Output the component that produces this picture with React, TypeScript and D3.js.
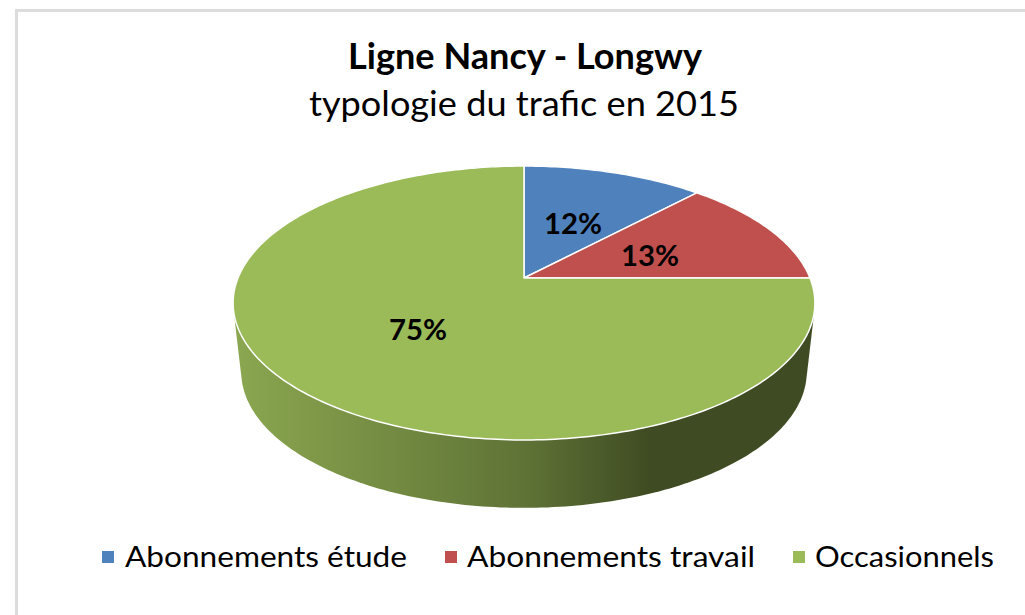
import React from 'react'
import * as d3 from 'd3'

const categories = ['Abonnements étude', 'Abonnements travail', 'Occasionnels']
const shares = [12, 13, 75]
const colors = ['#4f81bd', '#c0504d', '#9bbb59']
const labelSpots = [
  [573, 224],
  [650, 256],
  [418, 330],
]
const legendSpots = [
  { box: 102, text: 125, width: 282 },
  { box: 445, text: 467, width: 288 },
  { box: 793, text: 815, width: 179 },
]

const width = 1025
const height = 615
const font = 'Lato, "Open Sans", sans-serif'

// perspective of the tilted disc: far side squeezed, near side stretched
const cx = 524
const tilt = -0.1825

function project(angle: number, radius: number, yCentre: number, yRadius: number): [number, number] {
  const u = Math.sin(angle)
  const v = -Math.cos(angle)
  const d = 1 + tilt * v
  return [cx + (radius * u) / d, yCentre + (yRadius * v) / d]
}

const topRim = (a: number) => project(a, 286, 278, 132.4)
const bottomRim = (a: number) => project(a, 278, 347, 131.5)

const pie = d3.pie<number>().sort(null).value((d) => d)
const slices = pie(shares)
const line = d3.line()

function slicePath(start: number, end: number) {
  const n = Math.ceil((end - start) * 60)
  const pts = d3.range(n + 1).map((i) => topRim(start + ((end - start) * i) / n))
  return line([[cx, 278], ...pts]) + 'Z'
}

const rimAngles = d3.range(0, 360, 1).map((d) => (d * Math.PI) / 180)
const wallHull = d3.polygonHull([...rimAngles.map(topRim), ...rimAngles.map(bottomRim)]) as [number, number][]

export default function App() {
  return (
    <svg width={width} height={height} style={{ position: 'absolute', left: 0, top: 0, background: '#fff' }}>
      <defs>
        <linearGradient id="wall" gradientUnits="userSpaceOnUse" x1={234} x2={814} y1={0} y2={0}>
          <stop offset="0" stopColor="#8ba750" />
          <stop offset="0.5" stopColor="#5f7336" />
          <stop offset="0.72" stopColor="#3f4b22" />
          <stop offset="1" stopColor="#3f4b22" />
        </linearGradient>
      </defs>

      <path d="M16.5,615V10.5H1025" fill="none" stroke="#dcdcdc" strokeWidth={3} />

      <text x={525} y={69} textAnchor="middle" fontFamily={font} fontWeight={700} fontSize={36} textLength={354} lengthAdjust="spacingAndGlyphs" fill="#000">
        Ligne Nancy - Longwy
      </text>
      <text x={524} y={116} textAnchor="middle" fontFamily={font} fontSize={34} textLength={430} lengthAdjust="spacingAndGlyphs" fill="#000">
        typologie du trafic en 2015
      </text>

      <path d={line(wallHull) + 'Z'} fill="url(#wall)" />
      {slices.map((s, i) => (
        <path key={i} d={slicePath(s.startAngle, s.endAngle)} fill={colors[i]} stroke="#fff" strokeWidth={1.5} strokeLinejoin="round" />
      ))}

      {slices.map((s, i) => (
        <text key={i} x={labelSpots[i][0]} y={labelSpots[i][1]} dy="0.35em" textAnchor="middle" fontFamily={font} fontWeight={700} fontSize={29} textLength={58} lengthAdjust="spacingAndGlyphs" fill="#000">
          {s.data}%
        </text>
      ))}

      {categories.map((c, i) => (
        <g key={c}>
          <rect x={legendSpots[i].box} y={551} width={12} height={12} fill={colors[i]} />
          <text x={legendSpots[i].text} y={567} fontFamily={font} fontSize={29} textLength={legendSpots[i].width} lengthAdjust="spacingAndGlyphs" fill="#000">
            {c}
          </text>
        </g>
      ))}
    </svg>
  )
}
